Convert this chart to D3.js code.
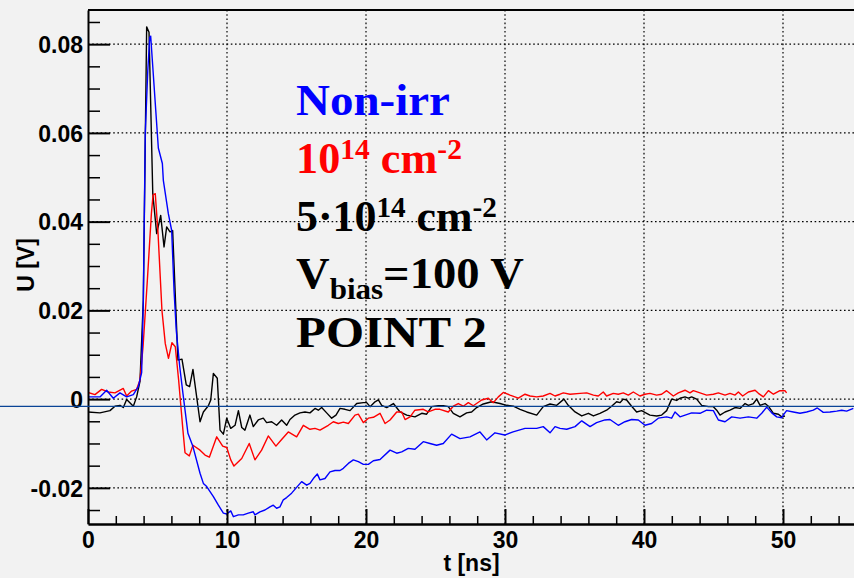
<!DOCTYPE html>
<html>
<head>
<meta charset="utf-8">
<script src="https://cdn.jsdelivr.net/npm/d3@7"></script>
<style>
  html, body { margin: 0; padding: 0; background: #f2f2f2; }
  svg { display: block; }
  .tick text { font-family: "Liberation Sans", Arial, sans-serif; font-weight: bold; font-size: 23px; fill: #000; }
</style>
</head>
<body>
<svg id="chart" width="854" height="578"></svg>
<script>
// Signal shapes U(t) for the three sensors
const tNonIrr = [0.00,0.86,1.34,1.82,2.30,2.78,3.26,3.62,3.86,3.98,4.12,4.30,4.44,4.51,5.06,5.35,5.42,5.78,6.02,6.19,6.35,6.60,6.83,7.19,7.55,8.06,8.30,8.54,9.02,9.38,9.74,9.98,10.27,10.46,10.82,11.17,11.53,11.89,12.01,12.37,12.73,13.09,13.33,13.57,13.81,14.05,14.29,14.65,15.01,15.37,15.73,15.97,16.21,16.50,16.69,17.05,17.41,17.77,18.13,18.37,18.73,19.09,19.45,19.81,20.17,20.53,21.01,21.73,22.21,22.57,23.04,23.52,24.12,24.60,25.08,25.56,26.16,26.76,27.48,28.20,28.68,29.28,29.98,30.58,31.44,32.28,32.75,33.24,33.60,33.96,34.44,35.04,35.52,36.12,36.59,37.19,37.55,38.15,38.63,39.11,39.59,40.07,40.55,41.03,41.63,41.99,42.23,42.59,43.43,44.03,44.51,44.99,45.35,45.83,46.31,46.91,47.51,48.11,48.47,48.83,49.19,49.55,49.91,50.07,50.26,50.74,51.22,51.70,52.18,52.47,52.90,53.38,53.86,54.22,54.58,55.06];
const uNonIrr = [0.0005,0.0005,0.0020,0.0002,0.0014,0.0005,0.0010,0.0028,0.0060,0.0223,0.0598,0.0740,0.0815,0.0818,0.0566,0.0531,0.0493,0.0418,0.0380,0.0245,0.0155,0.0073,0.0013,-0.0077,-0.0107,-0.0167,-0.0190,-0.0197,-0.0220,-0.0239,-0.0257,-0.0259,-0.0252,-0.0265,-0.0261,-0.0261,-0.0257,-0.0254,-0.0261,-0.0254,-0.0250,-0.0243,-0.0239,-0.0246,-0.0243,-0.0227,-0.0222,-0.0212,-0.0199,-0.0186,-0.0194,-0.0190,-0.0179,-0.0169,-0.0182,-0.0179,-0.0164,-0.0161,-0.0161,-0.0156,-0.0145,-0.0137,-0.0141,-0.0147,-0.0147,-0.0139,-0.0136,-0.0115,-0.0122,-0.0119,-0.0111,-0.0113,-0.0096,-0.0100,-0.0104,-0.0100,-0.0079,-0.0089,-0.0085,-0.0074,-0.0092,-0.0076,-0.0081,-0.0074,-0.0066,-0.0066,-0.0062,-0.0076,-0.0062,-0.0066,-0.0068,-0.0062,-0.0049,-0.0062,-0.0053,-0.0047,-0.0046,-0.0059,-0.0051,-0.0046,-0.0047,-0.0059,-0.0055,-0.0043,-0.0040,-0.0043,-0.0029,-0.0040,-0.0031,-0.0032,-0.0025,-0.0026,-0.0047,-0.0051,-0.0040,-0.0043,-0.0040,-0.0043,-0.0032,-0.0018,-0.0031,-0.0040,-0.0042,-0.0034,-0.0026,-0.0029,-0.0032,-0.0029,-0.0025,-0.0020,-0.0030,-0.0029,-0.0027,-0.0025,-0.0027,-0.0021];

const t1e14 = [0.00,0.50,0.98,1.46,1.94,2.54,2.78,3.14,3.50,3.74,3.96,4.27,4.56,4.68,4.84,5.04,5.32,5.56,5.79,6.04,6.28,6.52,6.83,6.98,7.29,7.55,8.06,8.42,8.73,9.26,9.69,9.98,10.27,10.50,11.06,11.60,12.01,12.49,12.97,13.52,13.93,14.41,15.01,15.49,15.97,16.33,16.69,17.29,17.65,18.01,18.37,18.73,19.21,19.45,19.81,20.17,20.53,21.01,21.37,21.73,22.21,22.57,22.81,23.17,23.52,24.12,24.48,24.96,25.32,25.92,26.28,26.64,27.00,27.36,27.72,28.32,28.80,29.16,29.52,29.88,30.36,30.96,31.44,31.80,32.28,32.75,33.24,33.60,33.96,34.20,34.68,35.40,35.88,36.36,36.71,37.07,37.31,37.79,38.15,38.51,38.87,39.23,39.71,40.07,40.43,40.91,41.27,41.63,42.11,42.47,42.95,43.31,43.55,44.03,44.51,44.99,45.35,45.83,46.19,46.55,46.79,47.10,47.51,47.99,48.23,48.59,48.95,49.31,49.78,50.14,50.26];
const u1e14 = [0.0015,0.0010,0.0022,0.0016,0.0014,0.0024,0.0007,0.0018,0.0022,0.0043,0.0118,0.0268,0.0418,0.0460,0.0463,0.0373,0.0200,0.0125,0.0092,0.0127,0.0118,0.0043,-0.0070,-0.0121,-0.0128,-0.0104,-0.0115,-0.0126,-0.0131,-0.0085,-0.0106,-0.0109,-0.0137,-0.0151,-0.0134,-0.0100,-0.0137,-0.0115,-0.0083,-0.0106,-0.0091,-0.0074,-0.0085,-0.0059,-0.0068,-0.0066,-0.0070,-0.0059,-0.0051,-0.0055,-0.0052,-0.0055,-0.0036,-0.0034,-0.0053,-0.0043,-0.0041,-0.0032,-0.0055,-0.0047,-0.0029,-0.0029,-0.0046,-0.0040,-0.0025,-0.0023,-0.0029,-0.0023,-0.0023,-0.0029,-0.0016,-0.0010,-0.0016,-0.0008,-0.0015,-0.0002,0.0002,-0.0008,0.0005,0.0015,0.0009,0.0002,0.0011,0.0007,0.0005,0.0007,0.0013,0.0007,0.0011,0.0014,0.0011,0.0013,0.0014,0.0009,0.0007,0.0016,0.0007,0.0013,0.0011,0.0014,0.0009,0.0016,0.0007,0.0011,0.0013,0.0009,0.0011,0.0019,0.0007,0.0014,0.0020,0.0014,0.0019,0.0014,0.0009,0.0011,0.0014,0.0009,0.0013,0.0009,0.0016,0.0007,0.0016,0.0020,0.0013,0.0005,0.0019,0.0011,0.0019,0.0019,0.0014];

const t5e14 = [0.00,0.86,1.58,1.94,2.30,2.54,2.78,3.26,3.50,3.74,3.98,4.22,4.39,4.66,4.94,5.23,5.47,5.66,5.90,6.09,6.47,6.76,7.07,7.31,7.55,8.06,8.30,8.66,8.83,9.02,9.30,9.50,9.74,9.98,10.27,10.58,10.82,11.06,11.29,11.65,11.89,12.25,12.61,12.85,13.21,13.57,13.93,14.29,14.53,14.89,15.25,15.61,15.97,16.33,16.57,16.81,17.17,17.53,17.84,18.13,18.49,18.85,19.33,19.81,20.05,20.29,20.65,20.89,21.13,21.49,21.97,22.45,22.93,23.52,24.01,24.36,24.73,25.20,25.56,25.92,26.28,26.76,27.24,27.60,27.96,28.44,29.04,29.64,30.12,30.60,31.08,31.56,32.28,32.75,33.24,33.72,34.24,34.55,35.04,35.52,36.00,36.36,36.83,37.31,37.67,38.03,38.27,38.51,38.75,39.11,39.47,39.83,40.19,40.43,40.91,41.27,41.63,41.99,42.35,42.59,42.95,43.19,43.43,43.79,44.15,44.63,44.99,45.23,45.47,45.83,46.19,46.55,46.91,47.27,47.51,47.87,48.11,48.35,48.71,48.95,49.31,49.67,49.91,50.14];
const u5e14 = [-0.0029,-0.0031,-0.0026,-0.0016,-0.0014,-0.0019,-0.0001,-0.0016,0.0005,0.0040,0.0223,0.0839,0.0827,0.0463,0.0373,0.0414,0.0343,0.0388,0.0377,0.0380,0.0088,0.0090,0.0032,0.0028,0.0067,-0.0051,-0.0029,-0.0015,-0.0002,0.0058,0.0047,-0.0070,-0.0079,-0.0043,-0.0066,-0.0059,-0.0026,-0.0064,-0.0070,-0.0036,-0.0062,-0.0047,-0.0043,-0.0053,-0.0051,-0.0059,-0.0047,-0.0059,-0.0046,-0.0036,-0.0031,-0.0029,-0.0031,-0.0021,-0.0025,-0.0019,-0.0031,-0.0043,-0.0036,-0.0021,-0.0023,-0.0026,-0.0010,-0.0008,-0.0008,-0.0017,-0.0006,-0.0002,-0.0014,-0.0019,-0.0010,-0.0029,-0.0036,-0.0040,-0.0032,-0.0034,-0.0017,-0.0015,-0.0015,-0.0017,-0.0032,-0.0040,-0.0031,-0.0029,-0.0019,-0.0011,-0.0006,-0.0010,-0.0014,-0.0016,-0.0023,-0.0029,-0.0036,-0.0017,-0.0011,-0.0014,0.0000,-0.0014,-0.0029,-0.0038,-0.0032,-0.0038,-0.0032,-0.0025,-0.0016,-0.0006,-0.0008,0.0000,-0.0002,-0.0016,-0.0029,-0.0026,-0.0032,-0.0036,-0.0038,-0.0036,-0.0026,0.0000,-0.0003,0.0002,0.0005,0.0002,0.0005,0.0000,-0.0014,-0.0017,-0.0017,-0.0025,-0.0036,-0.0029,-0.0025,-0.0019,-0.0021,-0.0010,-0.0014,-0.0010,0.0000,-0.0014,-0.0010,-0.0016,-0.0032,-0.0034,-0.0040,-0.0038];

// Reference level drawn across the pad
const baselineLevel = -0.00165;

// Axis ticks
const xMajorTicks = [0, 10, 20, 30, 40, 50];
const xMinorTicks = [2, 4, 6, 8, 12, 14, 16, 18, 22, 24, 26, 28, 32, 34, 36, 38, 42, 44, 46, 48, 52, 54];
const yMajorTicks = [-0.02, 0, 0.02, 0.04, 0.06, 0.08];
const yTickLabels = ["-0.02", "0", "0.02", "0.04", "0.06", "0.08"];
const yMinorTicks = [-0.025, -0.015, -0.01, -0.005, 0.005, 0.01, 0.015, 0.025, 0.03, 0.035, 0.045, 0.05, 0.055, 0.065, 0.07, 0.075, 0.085];

const xDomain = [0, 55.18];
const yDomain = [-0.02815, 0.0877];

const W = 854, H = 578;
const mLeft = 88, mRight = 855, mTop = 10, mBottom = 524;

const svg = d3.select("#chart");
svg.append("rect").attr("width", W).attr("height", H).attr("fill", "#f2f2f2");

const x = d3.scaleLinear().domain(xDomain).range([mLeft, mRight]);
const y = d3.scaleLinear().domain(yDomain).range([mBottom, mTop]);

// Dotted grid at major ticks
const grid = svg.append("g").attr("stroke", "#000").attr("stroke-width", 1.2).attr("stroke-dasharray", "1.6,2.6");
grid.selectAll("line.gx").data(xMajorTicks.filter(d => d > 0)).join("line")
  .attr("x1", d => x(d)).attr("x2", d => x(d)).attr("y1", mTop).attr("y2", mBottom);
grid.selectAll("line.gy").data(yMajorTicks).join("line")
  .attr("y1", d => y(d)).attr("y2", d => y(d)).attr("x1", mLeft).attr("x2", mRight);

// Series
const series = [
  { t: t5e14, u: u5e14, color: "#000000" },
  { t: t1e14, u: u1e14, color: "#ff0000" },
  { t: tNonIrr, u: uNonIrr, color: "#0000ff" }
];
svg.append("clipPath").attr("id", "plotClip").append("rect")
  .attr("x", mLeft).attr("y", mTop).attr("width", mRight - mLeft).attr("height", mBottom - mTop);
const line = d3.line().x(d => x(d[0])).y(d => y(d[1]));
const lines = svg.append("g").attr("clip-path", "url(#plotClip)");
series.forEach(s => {
  lines.append("path")
    .datum(d3.zip(s.t, s.u))
    .attr("d", line)
    .attr("fill", "none")
    .attr("stroke", s.color)
    .attr("stroke-width", 1.4)
    .attr("stroke-linejoin", "round");
});

// Frame top edge
svg.append("line").attr("x1", mLeft).attr("x2", mRight).attr("y1", mTop).attr("y2", mTop)
  .attr("stroke", "#000").attr("stroke-width", 2);

// Y axis: major ticks with labels, minor ticks
const yAxis = d3.axisLeft(y).tickValues(yMajorTicks)
  .tickFormat((d, i) => yTickLabels[i]).tickSizeInner(-22).tickSizeOuter(0).tickPadding(5);
const gy = svg.append("g").attr("transform", `translate(${mLeft},0)`).call(yAxis);
gy.select(".domain").attr("stroke", "#000").attr("stroke-width", 2);
gy.selectAll(".tick line").attr("stroke", "#000").attr("stroke-width", 2);
gy.selectAll(".tick text").attr("dy", "0.36em");
const yMinor = d3.axisLeft(y).tickValues(yMinorTicks).tickFormat("").tickSizeInner(-12).tickSizeOuter(0);
const gym = svg.append("g").attr("transform", `translate(${mLeft},0)`).call(yMinor);
gym.select(".domain").remove();
gym.selectAll(".tick line").attr("stroke", "#000").attr("stroke-width", 1.5);

// X axis: major ticks with labels, minor ticks
const xAxis = d3.axisBottom(x).tickValues(xMajorTicks).tickFormat(d3.format("d"))
  .tickSizeInner(-15).tickSizeOuter(0).tickPadding(8);
const gx = svg.append("g").attr("transform", `translate(0,${mBottom})`).call(xAxis);
gx.select(".domain").attr("stroke", "#000").attr("stroke-width", 2.5);
gx.selectAll(".tick line").attr("stroke", "#000").attr("stroke-width", 2);
const xMinor = d3.axisBottom(x).tickValues(xMinorTicks).tickFormat("").tickSizeInner(-8).tickSizeOuter(0);
const gxm = svg.append("g").attr("transform", `translate(0,${mBottom})`).call(xMinor);
gxm.select(".domain").remove();
gxm.selectAll(".tick line").attr("stroke", "#000").attr("stroke-width", 1.5);

// Horizontal reference line across the whole pad
svg.append("line").attr("x1", 0).attr("x2", W)
  .attr("y1", y(baselineLevel)).attr("y2", y(baselineLevel))
  .attr("stroke", "#0a4496").attr("stroke-width", 1.3);

// Axis titles
const titleFont = "'Liberation Sans', Arial, sans-serif";
svg.append("text").attr("x", (mLeft + mRight) / 2).attr("y", 571)
  .attr("text-anchor", "middle").attr("font-family", titleFont)
  .attr("font-weight", "bold").attr("font-size", 23).text("t [ns]");
svg.append("text").attr("transform", "translate(34,265) rotate(-90)")
  .attr("text-anchor", "middle").attr("font-family", titleFont)
  .attr("font-weight", "bold").attr("font-size", 23).text("U [V]");

// Legend text block; each line is stretched horizontally to its set width
const serif = "'Liberation Serif', 'Times New Roman', serif";
const lx = 296;
const big = 45, small = 30;
function addLine(yPos, color, width, parts) {
  const g = svg.append("g");
  const t = g.append("text").attr("x", 0).attr("y", 0)
    .attr("font-family", serif).attr("font-weight", "bold")
    .attr("font-size", big).attr("fill", color);
  parts.forEach(p => {
    const ts = t.append("tspan").text(p.s);
    if (p.sup) ts.attr("font-size", small).attr("dy", -14);
    if (p.sub) ts.attr("font-size", small).attr("dy", 11);
    if (p.back) ts.attr("dy", p.back);
  });
  const bb = t.node().getBBox();
  const sx = bb.width > 0 ? width / bb.width : 1;
  g.attr("transform", `translate(${lx - bb.x * sx},${yPos}) scale(${sx},1)`);
}
addLine(115, "#0000ff", 154, [{ s: "Non-irr" }]);
addLine(173, "#ff0000", 166, [{ s: "10" }, { s: "14", sup: true }, { s: " cm", back: 14 }, { s: "-2", sup: true }]);
addLine(231, "#000000", 201, [{ s: "5\u00b710" }, { s: "14", sup: true }, { s: " cm", back: 14 }, { s: "-2", sup: true }]);
addLine(288, "#000000", 228, [{ s: "V" }, { s: "bias", sub: true }, { s: "=100 V", back: -11 }]);
addLine(347, "#000000", 191, [{ s: "POINT 2" }]);
</script>
</body>
</html>
